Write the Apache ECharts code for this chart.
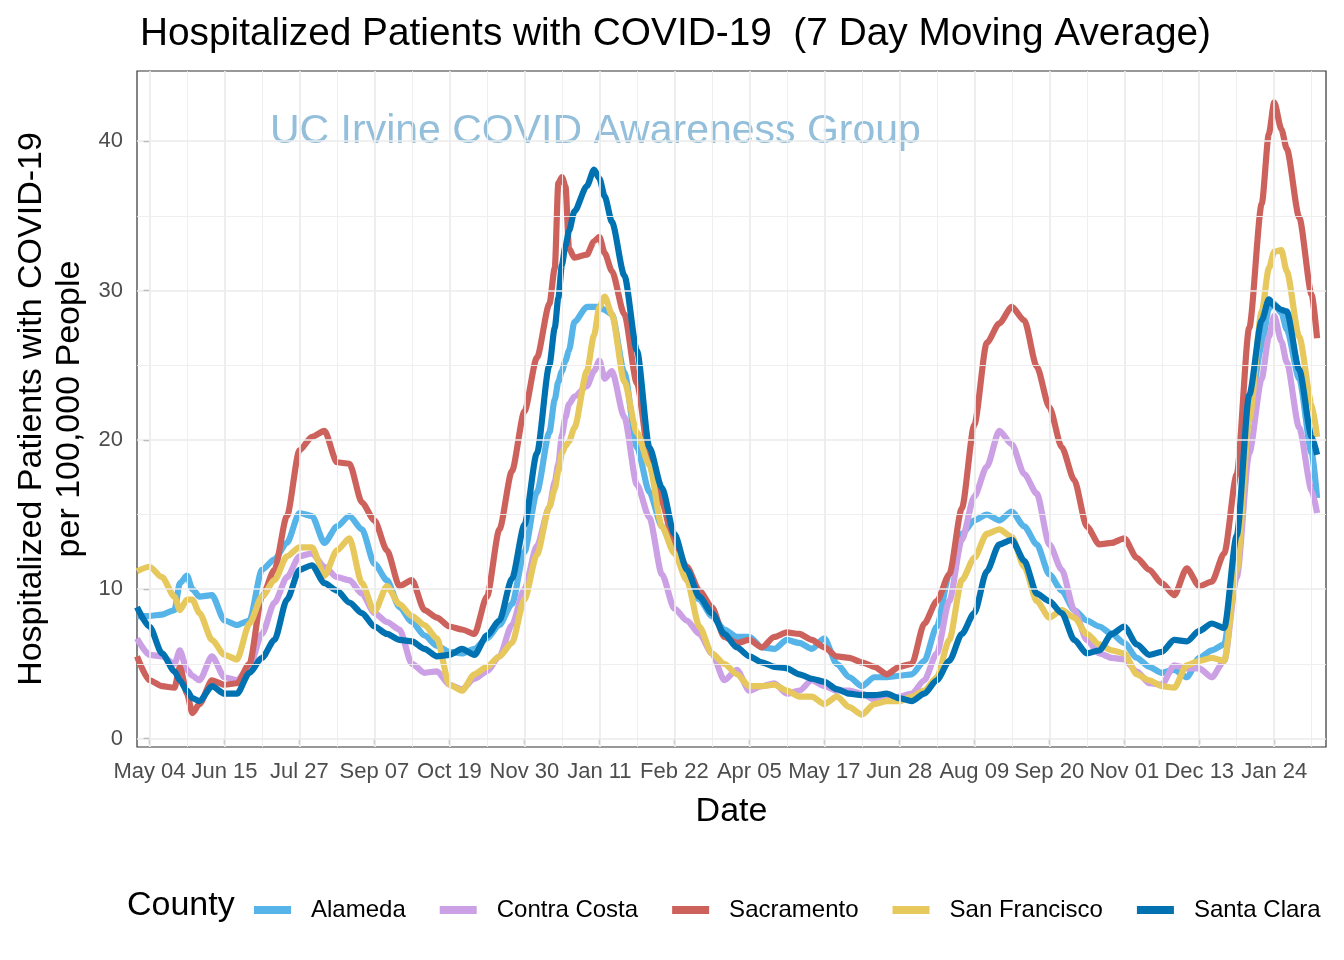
<!DOCTYPE html>
<html><head><meta charset="utf-8">
<script src="https://cdn.jsdelivr.net/npm/echarts@6/dist/echarts.min.js"></script>
<style>html,body{margin:0;padding:0;background:#fff}#chart{width:1344px;height:960px}</style>
</head><body><div id="chart"></div>
<script>
// x = days since 2020-05-04
const days = [
 -7,0,7,14,17,21,24,28,35,42,
 49,56,63,70,77,84,91,98,105,112,
 119,126,133,140,147,154,161,168,175,182,
 189,196,203,210,217,224,227,229,231,233,
 235,238,245,249,252,255,259,266,273,280,
 287,294,301,308,315,322,329,336,343,350,
 357,364,371,378,385,392,399,406,413,420,
 427,434,441,448,455,462,469,476,483,490,
 497,504,511,518,525,532,539,546,553,560,
 567,574,581,588,595,602,609,616,623,627,
 630,634,637,644,651,654];
const tickDays = [0,42,84,126,168,210,252,294,336,378,420,462,504,546,588,630];
const tickLabels = ['May 04','Jun 15','Jul 27','Sep 07','Oct 19','Nov 30','Jan 11','Feb 22','Apr 05','May 17','Jun 28','Aug 09','Sep 20','Nov 01','Dec 13','Jan 24'];
const minorDays = [21,63,105,147,189,231,273,315,357,399,441,483,525,567,609,651];
const yTicks = [0,10,20,30,40];
const yMinor = [5,15,25,35];

const alameda = [
 8.2,8.2,8.3,8.6,10.4,10.9,10.0,9.5,9.6,7.9,
 7.6,7.9,11.3,12.0,13.1,15.1,14.9,13.1,14.2,14.9,
 14.0,11.7,10.6,8.8,7.8,6.9,6.2,5.8,5.7,6.0,
 6.7,7.6,9.0,12.5,16.5,20.5,22.7,23.9,24.6,25.3,
 26.0,27.9,28.9,28.9,28.9,28.7,28.4,24.5,19.5,16.5,
 14.2,12.5,10.8,9.3,8.2,7.3,6.8,6.8,6.1,6.0,
 6.6,6.4,6.0,6.7,5.0,4.1,3.5,4.1,4.1,4.2,
 4.3,5.2,7.5,11.0,13.7,14.6,15.0,14.6,15.2,14.2,
 13.0,11.0,9.9,8.6,7.9,7.5,7.0,6.4,5.4,4.8,
 4.4,4.6,4.1,5.4,5.9,6.3,13.0,21.9,26.3,28.8,
 29.1,28.5,27.4,24.1,19.1,16.1];
const contraCosta = [
 6.7,5.6,5.5,5.0,5.9,4.6,4.2,3.9,5.5,4.1,
 3.9,4.8,7.0,9.1,10.8,12.2,12.4,11.5,10.8,10.6,
 9.7,8.4,7.8,7.3,5.0,4.4,4.5,3.6,3.3,4.0,
 4.5,5.5,7.6,10.0,12.9,15.5,17.2,18.4,20.3,21.5,
 22.4,22.9,23.6,24.6,25.3,24.1,24.6,21.5,17.0,14.8,
 11.0,8.7,7.9,7.0,5.7,3.9,4.6,3.2,3.5,3.7,
 3.0,3.2,3.9,3.5,3.2,3.2,3.0,2.6,2.6,2.8,
 3.0,3.9,5.7,9.2,13.3,16.2,18.2,20.6,19.7,17.7,
 16.4,13.0,11.3,8.6,6.6,5.7,5.4,5.3,4.5,3.7,
 3.6,4.9,4.7,4.7,4.1,5.2,10.8,19.1,24.1,26.9,
 28.3,26.6,25.2,20.8,16.6,15.1];
const sacramento = [
 5.5,3.9,3.5,3.4,4.8,3.0,1.7,2.3,3.9,3.6,
 3.7,5.0,9.5,11.3,14.9,19.3,20.2,20.6,18.5,18.4,
 15.8,14.6,12.6,10.2,10.6,8.6,8.1,7.5,7.3,7.0,
 9.5,14.0,17.9,21.9,25.5,29.1,31.5,37.2,37.6,37.0,
 32.8,32.2,32.4,33.3,33.6,32.5,31.3,28.4,23.8,18.8,
 15.8,13.0,11.5,9.9,8.8,6.8,6.4,6.6,6.1,6.8,
 7.1,7.0,6.6,6.1,5.5,5.4,5.1,4.8,4.3,4.8,
 5.0,7.7,9.2,11.0,15.4,21.0,26.5,27.8,28.9,28.0,
 24.9,22.2,19.5,17.3,14.2,13.0,13.1,13.4,12.1,11.3,
 10.4,9.6,11.4,10.2,10.5,12.4,17.7,27.5,35.8,40.5,
 42.6,40.8,39.5,34.9,29.7,26.8];
const sanFrancisco = [
 11.2,11.5,10.8,9.5,8.6,9.3,9.3,8.4,6.6,5.6,
 5.3,7.7,9.5,10.6,12.2,12.8,12.8,10.9,12.6,13.4,
 10.4,8.5,10.2,9.0,8.2,7.6,6.7,3.6,3.2,4.3,
 4.8,5.5,6.4,9.3,12.3,15.5,16.7,17.9,19.1,19.6,
 19.9,20.8,24.6,27.0,28.9,29.6,28.4,23.9,20.5,18.3,
 14.2,12.4,10.6,7.5,5.7,5.0,4.3,3.5,3.5,3.6,
 3.2,2.8,2.8,2.3,2.8,2.1,1.6,2.3,2.5,2.5,
 2.8,3.2,4.1,6.6,10.6,12.1,13.7,14.0,13.5,11.5,
 9.2,8.1,8.6,8.1,7.0,6.3,5.9,5.7,4.3,3.9,
 3.5,3.4,4.9,5.2,5.4,5.2,11.3,21.3,28.6,31.5,
 32.6,32.7,31.3,26.9,22.4,20.2];
const santaClara = [
 8.8,7.5,5.7,4.5,3.9,3.2,2.7,2.5,3.5,3.0,
 3.0,4.4,5.4,6.6,9.3,11.3,11.6,10.4,9.9,9.1,
 8.4,7.5,7.0,6.6,6.5,6.0,5.5,5.6,6.0,5.6,
 6.9,7.9,10.7,14.3,19.1,25.0,27.5,29.5,31.7,33.0,
 34.0,35.3,37.0,38.1,37.5,36.3,34.6,31.0,26.0,19.5,
 16.8,13.7,11.3,9.5,8.4,7.0,6.1,5.5,5.1,4.8,
 4.7,4.3,4.0,3.8,3.3,3.0,2.9,2.9,3.0,2.7,
 2.5,3.0,3.9,5.2,7.0,8.4,11.2,13.0,13.3,11.9,
 9.7,9.2,8.4,6.6,5.7,5.9,7.0,7.5,6.3,5.6,
 5.8,6.6,6.5,7.2,7.7,7.4,13.6,23.0,28.0,29.4,
 29.0,28.7,28.6,24.7,20.2,19.0];

const counties = ['Alameda','Contra Costa','Sacramento','San Francisco','Santa Clara'];
const values = [alameda, contraCosta, sacramento, sanFrancisco, santaClara];
const colors = ['#56B4E9','#CBA0E5','#CD625D','#E6C85C','#0072B2'];

const FONT = "'Liberation Sans', Arial, Helvetica, sans-serif";
const chart = echarts.init(document.getElementById('chart'), null, {renderer:'canvas'});

const gridLines = [];
tickDays.forEach(d => gridLines.push({xAxis: d, lineStyle:{color:'#EBEBEB', width:1.7, type:'solid'}}));
minorDays.forEach(d => gridLines.push({xAxis: d, lineStyle:{color:'#EDEDED', width:0.9, type:'solid'}}));
yTicks.forEach(v => gridLines.push({yAxis: v, lineStyle:{color:'#EBEBEB', width:1.7, type:'solid'}}));
yMinor.forEach(v => gridLines.push({yAxis: v, lineStyle:{color:'#EDEDED', width:0.9, type:'solid'}}));

const series = [{
  name: '_grid', type: 'line', data: [], z: 1, silent: true,
  markLine: {silent: true, symbol: ['none','none'], label:{show:false}, animation:false, data: gridLines}
}];
counties.forEach((c, i) => {
  series.push({
    name: c, type: 'line', showSymbol: false, symbol: 'none', smooth: 0.25, smoothMonotone: 'x',
    z: 3, clip: true,
    lineStyle: {width: 6.2, color: colors[i], join: 'round', cap: 'butt'},
    itemStyle: {color: colors[i]},
    data: days.map((d, k) => [d, values[i][k]])
  });
});

chart.setOption({
  animation: false,
  backgroundColor: '#ffffff',
  title: {
    text: 'Hospitalized Patients with COVID-19  (7 Day Moving Average)',
    left: 135, top: 10,
    textStyle: {fontFamily: FONT, fontSize: 38.8, fontWeight: 'normal', color: '#000'}
  },
  grid: {left: 137, right: 18, top: 71, bottom: 213, show: true, borderColor: '#333333', borderWidth: 1.2, backgroundColor: '#fff', containLabel: false},
  xAxis: {
    type: 'value', min: -7, max: 659,
    name: 'Date', nameLocation: 'middle', nameGap: 48,
    nameTextStyle: {fontFamily: FONT, fontSize: 34, color: '#000'},
    axisLine: {show: false},
    axisTick: {show: true, length: 6, lineStyle: {color: '#333333', width: 1.2}, customValues: tickDays},
    axisLabel: {customValues: tickDays, margin: 14, fontFamily: FONT, fontSize: 22, color: '#4D4D4D',
      formatter: v => tickLabels[tickDays.indexOf(v)] || ''},
    splitLine: {show: false}
  },
  yAxis: {
    type: 'value', min: -0.57, max: 44.7,
    axisLine: {show: false},
    axisTick: {show: true, length: 6, lineStyle: {color: '#333333', width: 1.2}, customValues: yTicks},
    axisLabel: {customValues: yTicks, margin: 14, fontFamily: FONT, fontSize: 22, color: '#4D4D4D'},
    splitLine: {show: false}
  },
  legend: {
    data: counties, left: 249, top: 893, icon: 'rect', itemWidth: 37, itemHeight: 8, itemGap: 34,
    textStyle: {fontFamily: FONT, fontSize: 24, color: '#000', padding: [0,0,0,15]}
  },
  graphic: [
    {type: 'text', left: 127, top: 889, silent: true,
     style: {text: 'County', fontFamily: FONT, fontSize: 34, fill: '#000'}},
    {type: 'text', x: 51, y: 409, rotation: Math.PI/2, silent: true,
     style: {text: 'Hospitalized Patients with COVID-19\nper 100,000 People', fontFamily: FONT, fontSize: 34, lineHeight: 38,
             fill: '#000', align: 'center', verticalAlign: 'middle'}},
    {type: 'text', left: 270, top: 111, silent: true, z: 2,
     style: {text: 'UC Irvine COVID Awareness Group', fontFamily: FONT, fontSize: 41, fill: '#93BFDB'}}
  ],
  series: series
});
</script></body></html>
